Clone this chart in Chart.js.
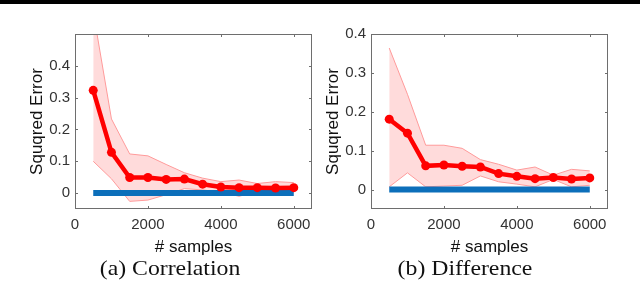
<!DOCTYPE html>
<html>
<head>
<meta charset="utf-8">
<script src="https://cdn.jsdelivr.net/npm/chart.js@4/dist/chart.umd.min.js"></script>
<style>
  body { margin: 0; background: #fff; }
  #wrap { position: relative; width: 640px; height: 288px; overflow: hidden; }
  #topbar { position: absolute; left: 0; top: 0; width: 640px; height: 4px; background: #000; }
  .panel { position: absolute; top: 0; width: 320px; height: 288px; }
  .caption { position: absolute; top: 255px; font-family: "Liberation Serif", "DejaVu Serif", serif; font-size: 22px; color: #111; white-space: nowrap; transform: translateX(-50%) scaleX(1.08); }
</style>
</head>
<body>
<div id="wrap">
  <div class="panel" style="left:0"><canvas id="corr" width="320" height="288"></canvas></div>
  <div class="panel" style="left:320px"><canvas id="diff" width="320" height="288"></canvas></div>
  <div id="topbar"></div>
  <div class="caption" style="left:170px">(a) Correlation</div>
  <div class="caption" style="left:465px">(b) Difference</div>
</div>
<script>
// sample counts on the x axis
const samples = [500, 1000, 1500, 2000, 2500, 3000, 3500, 4000, 4500, 5000, 5500, 6000];

// (a) Correlation
const corrMean  = [0.323, 0.128, 0.049, 0.049, 0.043, 0.044, 0.028, 0.019, 0.017, 0.017, 0.016, 0.017];
const corrUpper = [0.57, 0.233, 0.123, 0.117, 0.09, 0.064, 0.047, 0.036, 0.041, 0.03, 0.036, 0.033];
const corrLower = [0.1, 0.045, -0.026, -0.022, -0.005, 0.014, 0.01, 0.003, -0.01, 0.005, 0.005, 0.005];

// (b) Difference
const diffMean  = [0.181, 0.145, 0.061, 0.063, 0.060, 0.058, 0.041, 0.034, 0.028, 0.031, 0.027, 0.030];
const diffUpper = [0.364, 0.245, 0.114, 0.114, 0.106, 0.077, 0.065, 0.05, 0.058, 0.037, 0.052, 0.048];
const diffLower = [0.007, 0.043, 0.007, 0.009, 0.011, 0.035, 0.02, 0.014, 0.007, 0.026, 0.007, 0.011];

// the blue reference line at zero
const baseX = [500, 6000];
const baseY = [0, 0];

const xTicks = [0, 2000, 4000, 6000];
const yTicks = [0, 0.1, 0.2, 0.3, 0.4];

const pts = (xs, ys) => xs.map((x, i) => ({x: x, y: ys[i]}));

// matlab style box with little inward ticks
const boxPlugin = {
    id: 'box',
    afterDatasetsDraw(chart) {
        const a = chart.chartArea, c = chart.ctx;
        const xs = chart.scales.x, ys = chart.scales.y;
        c.save();
        c.strokeStyle = '#6e6e6e';
        c.lineWidth = 1;
        c.strokeRect(a.left + 0.5, a.top + 0.5, a.right - a.left - 1, a.bottom - a.top - 1);
        c.beginPath();
        xTicks.forEach(v => {
            const px = Math.round(xs.getPixelForValue(v)) + 0.5;
            c.moveTo(px, a.bottom); c.lineTo(px, a.bottom - 3);
            c.moveTo(px, a.top); c.lineTo(px, a.top + 3);
        });
        yTicks.forEach(v => {
            const py = Math.round(ys.getPixelForValue(v)) + 0.5;
            c.moveTo(a.left, py); c.lineTo(a.left + 3, py);
            c.moveTo(a.right, py); c.lineTo(a.right - 3, py);
        });
        c.stroke();
        c.restore();
    }
};

function makeChart(id, mean, upper, lower, yMax, pad, yWidth) {
    return new Chart(document.getElementById(id), {
        type: 'line',
        data: {
            datasets: [
                {
                    data: pts(samples, mean),
                    borderColor: '#ff0000',
                    backgroundColor: '#ff0000',
                    borderWidth: 4.5,
                    pointRadius: 4.5,
                    pointBorderWidth: 0,
                    fill: false
                },
                {
                    data: pts(baseX, baseY),
                    borderColor: '#0c6fba',
                    borderWidth: 6,
                    borderCapStyle: 'butt',
                    pointRadius: 0,
                    fill: false
                },
                {
                    data: pts(samples, upper),
                    borderColor: '#ff9a9a',
                    borderWidth: 1,
                    pointRadius: 0,
                    fill: false
                },
                {
                    data: pts(samples, lower),
                    borderColor: '#ff9a9a',
                    borderWidth: 1,
                    pointRadius: 0,
                    backgroundColor: 'rgba(255, 195, 195, 0.6)',
                    fill: '-1'
                }
            ]
        },
        options: {
            responsive: false,
            animation: false,
            layout: { padding: pad },
            plugins: { legend: { display: false }, tooltip: { enabled: false } },
            scales: {
                x: {
                    type: 'linear',
                    min: 0,
                    max: 6500,
                    grid: { display: false, drawTicks: false },
                    border: { display: false },
                    afterBuildTicks: s => { s.ticks = xTicks.map(v => ({value: v})); },
                    afterFit: s => { s.height = 49; },
                    ticks: { padding: 7, maxRotation: 0, color: '#333', callback: v => String(v), font: { family: 'Liberation Sans', size: 15 } },
                    title: { display: true, text: '# samples', color: '#111', padding: 0, font: { family: 'Liberation Sans', size: 17 } }
                },
                y: {
                    min: -0.05,
                    max: yMax,
                    grid: { display: false, drawTicks: false },
                    border: { display: false },
                    afterBuildTicks: s => { s.ticks = yTicks.map(v => ({value: v})); },
                    afterFit: s => { s.width = yWidth; },
                    ticks: { padding: 5, color: '#333', font: { family: 'Liberation Sans', size: 15 } },
                    title: { display: true, text: 'Squqred Error', color: '#111', padding: 0, font: { family: 'Liberation Sans', size: 17 } }
                }
            }
        },
        plugins: [boxPlugin]
    });
}

makeChart('corr', corrMean, corrUpper, corrLower, 0.5, {left: 27, right: 8, top: 34, bottom: 30}, 48);
makeChart('diff', diffMean, diffUpper, diffLower, 0.4, {left: 3, right: 32, top: 34, bottom: 30}, 48);
</script>
</body>
</html>
